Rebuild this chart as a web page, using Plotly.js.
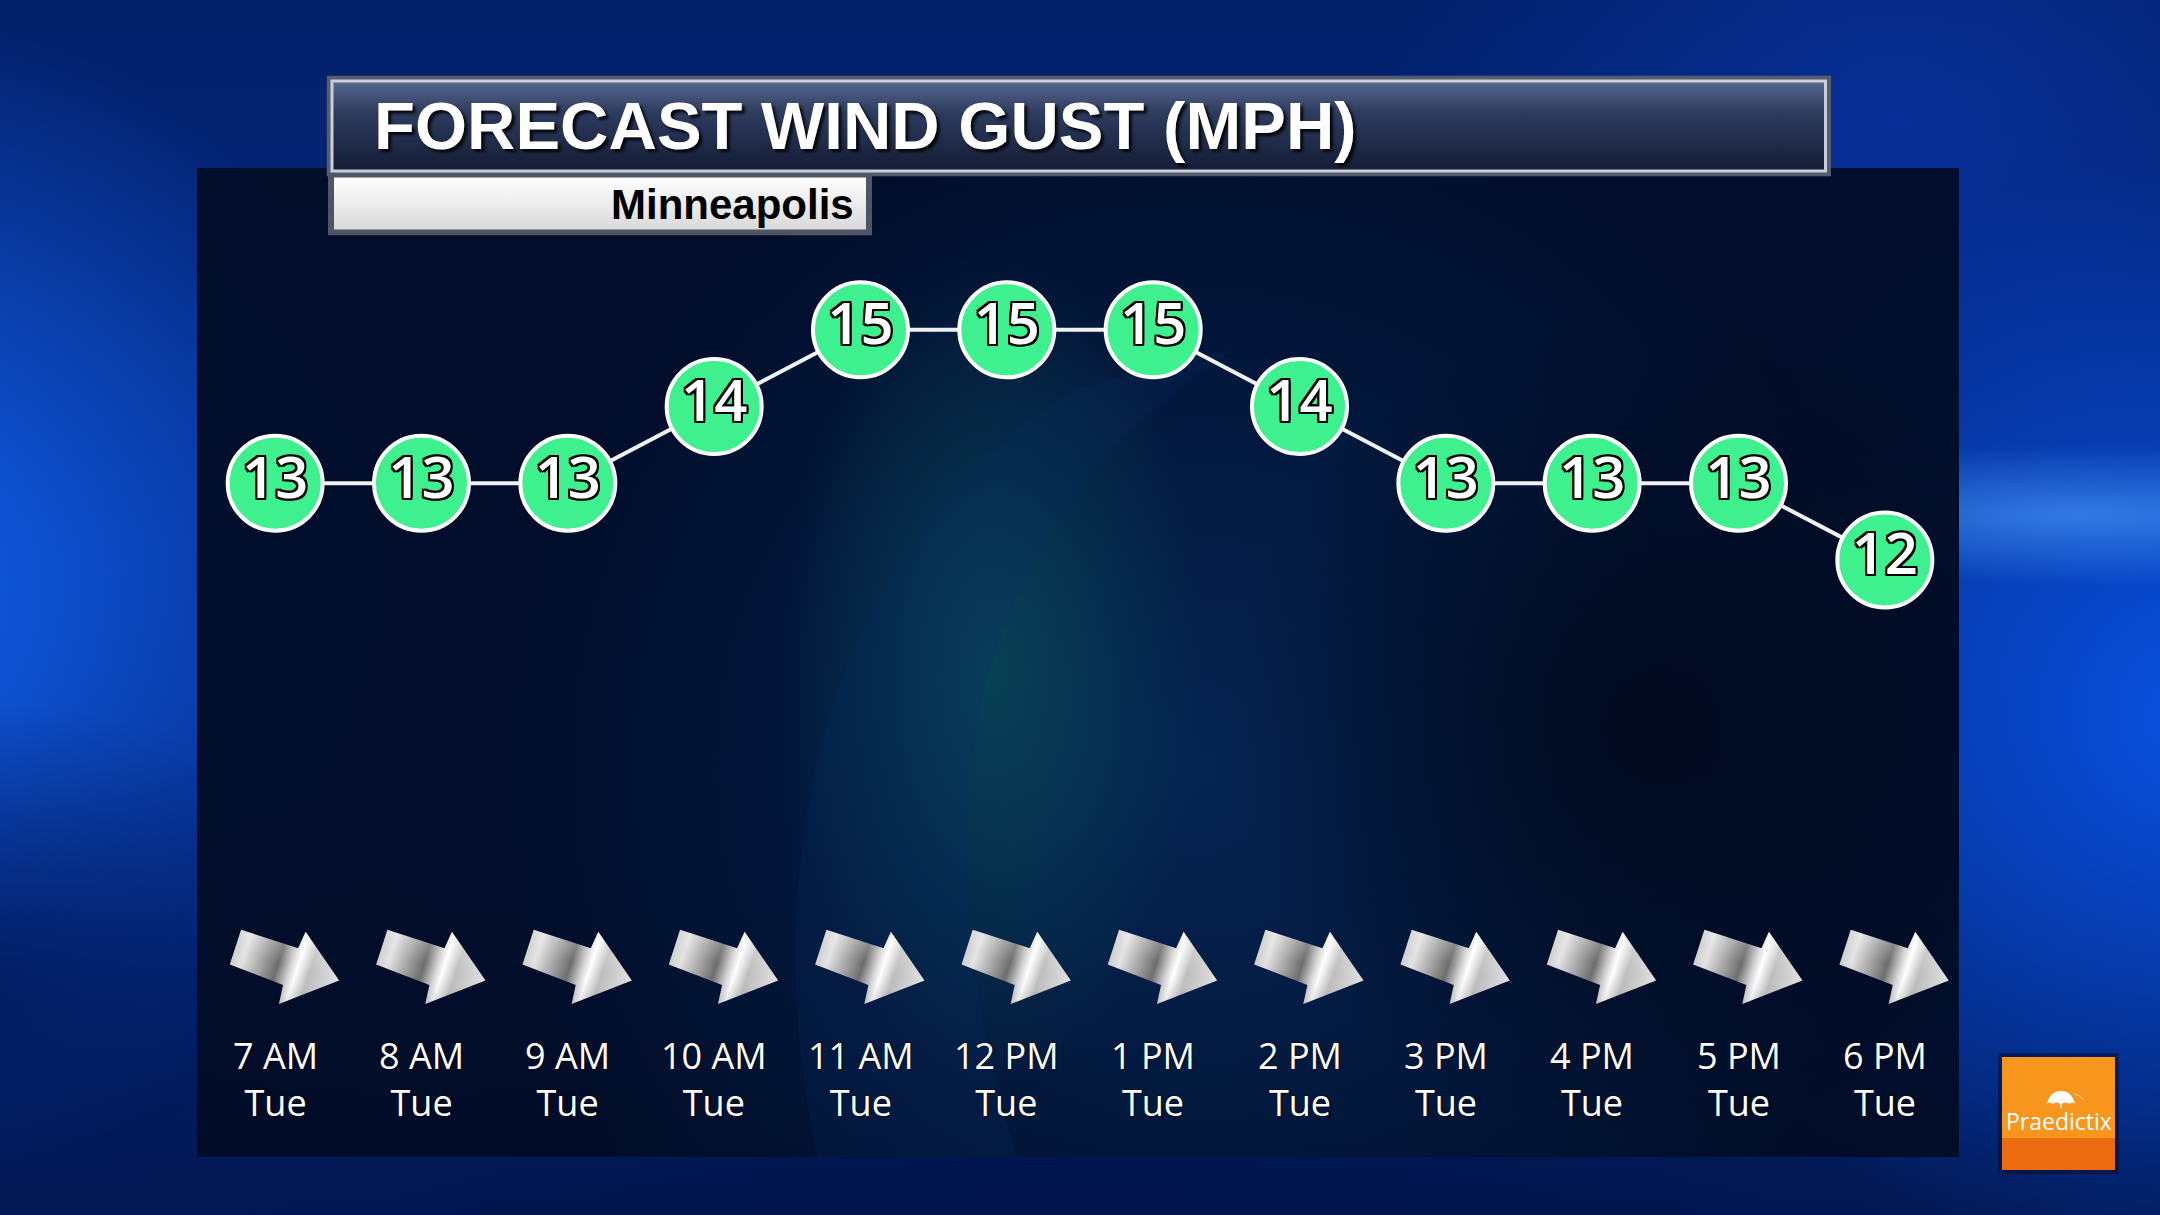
<!DOCTYPE html>
<html>
<head>
<meta charset="utf-8">
<script src="https://cdn.plot.ly/plotly-3.0.1.min.js"></script>
<style>
html,body{margin:0;padding:0;overflow:hidden;}
body{
  width:2160px;height:1215px;
  background:
    radial-gradient(ellipse 460px 70px at 2080px 515px, rgba(80,160,255,0.6), rgba(0,0,0,0) 100%),
    radial-gradient(ellipse 600px 560px at 2200px 720px, rgba(10,85,235,0.9), rgba(0,0,0,0) 100%),
    radial-gradient(ellipse 520px 420px at 1900px 120px, rgba(10,60,190,0.5), rgba(0,0,0,0) 100%),
    radial-gradient(ellipse 520px 300px at -60px 1000px, rgba(0,20,80,0.8), rgba(0,0,0,0) 100%),
    radial-gradient(ellipse 600px 600px at -160px 600px, rgba(20,105,255,0.9), rgba(0,0,0,0) 100%),
    radial-gradient(ellipse 1300px 260px at 1080px 1260px, rgba(0,18,70,0.9), rgba(0,0,0,0) 100%),
    linear-gradient(180deg, #03206a 0%, #042a86 45%, #03257a 70%, #021a58 100%);
}
#chart{width:2160px;height:1215px;}
</style>
</head>
<body>
<div id="chart"></div>
<script>
// ---- data ----
const hours = ['7 AM','8 AM','9 AM','10 AM','11 AM','12 PM','1 PM','2 PM','3 PM','4 PM','5 PM','6 PM'];
const days = ['Tue','Tue','Tue','Tue','Tue','Tue','Tue','Tue','Tue','Tue','Tue','Tue'];
const gusts = [13,13,13,14,15,15,15,14,13,13,13,12];
const windFromDeg = [288,288,288,288,288,288,288,288,288,288,288,288];
const chartTitle = 'FORECAST WIND GUST (MPH)';
const locationName = 'Minneapolis';
const brand = 'Praedictix';

// ---- helpers ----
function svgURI(s){ return 'data:image/svg+xml;charset=utf-8,' + encodeURIComponent(s); }

function arrowSVG(fromDeg){
  const rot = ((fromDeg + 90) % 360);
  return svgURI(
  '<svg xmlns="http://www.w3.org/2000/svg" width="140" height="140" viewBox="-70 -70 140 140">' +
  '<defs><linearGradient id="g" gradientUnits="userSpaceOnUse" x1="-53" y1="0" x2="56" y2="0">' +
  '<stop offset="0" stop-color="#cfcfcf"/><stop offset="0.1" stop-color="#e4e4e4"/>' +
  '<stop offset="0.42" stop-color="#6c6c6c"/><stop offset="0.54" stop-color="#d6d6d6"/>' +
  '<stop offset="0.6" stop-color="#ffffff"/><stop offset="0.72" stop-color="#bdbdbd"/>' +
  '<stop offset="1" stop-color="#e2e2e2"/></linearGradient>' +
  '<linearGradient id="h" x1="0" y1="0" x2="0" y2="1">' +
  '<stop offset="0" stop-color="#ffffff" stop-opacity="0.35"/><stop offset="0.5" stop-color="#ffffff" stop-opacity="0"/>' +
  '<stop offset="1" stop-color="#000000" stop-opacity="0.12"/></linearGradient></defs>' +
  '<g transform="translate(9.5 0) rotate(' + rot + ')">' +
  '<path d="M-53,-22 L7,-22 L9,-40 L56,-4 L6,37 L4,17.5 L-53,14.5 Z" fill="url(#g)"/>' +
  '<path d="M-53,-22 L7,-22 L9,-40 L56,-4 L6,37 L4,17.5 L-53,14.5 Z" fill="url(#h)"/>' +
  '</g></svg>');
}

const panelSVG = svgURI(
 '<svg xmlns="http://www.w3.org/2000/svg" width="1762" height="989" viewBox="0 0 1762 989" preserveAspectRatio="none">' +
 '<defs>' +
 '<radialGradient id="a" cx="795" cy="500" r="420" gradientUnits="userSpaceOnUse" gradientTransform="translate(795 500) scale(0.5 1) translate(-795 -500)">' +
 '<stop offset="0" stop-color="#0a4a5a" stop-opacity="0.8"/><stop offset="1" stop-color="#0a4a5a" stop-opacity="0"/></radialGradient>' +
 '<radialGradient id="b" cx="1000" cy="600" r="700" gradientUnits="userSpaceOnUse">' +
 '<stop offset="0" stop-color="#062a5c" stop-opacity="0.8"/><stop offset="1" stop-color="#062a5c" stop-opacity="0"/></radialGradient>' +
 '<radialGradient id="c" cx="1450" cy="560" r="420" gradientUnits="userSpaceOnUse">' +
 '<stop offset="0" stop-color="#000616" stop-opacity="0.8"/><stop offset="1" stop-color="#000616" stop-opacity="0"/></radialGradient>' +
 '</defs>' +
 '<rect width="1762" height="989" fill="#010c26" fill-opacity="0.96"/>' +
 '<rect width="1762" height="989" fill="url(#b)"/>' +
 '<rect width="1762" height="989" fill="url(#a)"/>' +
 '<path d="M620,989 C560,700 620,380 880,220 L1040,180 C800,330 700,600 820,989 Z" fill="#0b2f66" fill-opacity="0.22"/>' +
 '<rect width="1762" height="989" fill="url(#c)"/>' +
 '</svg>');

const titleSVG = svgURI(
 '<svg xmlns="http://www.w3.org/2000/svg" width="1505" height="101" viewBox="0 0 1505 101" preserveAspectRatio="none">' +
 '<defs><linearGradient id="t" x1="0" y1="0" x2="0" y2="1">' +
 '<stop offset="0" stop-color="#56658c"/><stop offset="0.35" stop-color="#2d3b5e"/><stop offset="1" stop-color="#141d36"/></linearGradient></defs>' +
 '<rect width="1505" height="101" fill="#555c6e"/>' +
 '<rect x="4" y="4" width="1497" height="93" fill="#c9ced8"/>' +
 '<rect x="7" y="7" width="1491" height="87" fill="url(#t)"/>' +
 '</svg>');

const subSVG = svgURI(
 '<svg xmlns="http://www.w3.org/2000/svg" width="544" height="62" viewBox="0 0 544 62" preserveAspectRatio="none">' +
 '<defs><linearGradient id="s" x1="0" y1="0" x2="0" y2="1">' +
 '<stop offset="0" stop-color="#ffffff"/><stop offset="1" stop-color="#d9d9d9"/></linearGradient></defs>' +
 '<rect width="544" height="62" fill="#4e5566"/>' +
 '<rect x="6" y="4" width="532" height="52" fill="url(#s)"/>' +
 '</svg>');

const umbrellaSVG = svgURI(
 '<svg xmlns="http://www.w3.org/2000/svg" width="40" height="20" viewBox="0 0 40 20">' +
 '<path d="M1,15 Q4,2 15,2 Q26,2 29,15 Q26.5,12 23.5,15 Q20,12 15,15 Q10,12 6.5,15 Q3.5,12 1,15 Z" fill="#ffffff"/>' +
 '<path d="M15,2 L15,19" stroke="#ffffff" stroke-width="1.5"/>' +
 '<path d="M28,5 Q34,6 38,11" stroke="#ffffff" stroke-opacity="0.6" stroke-width="1" fill="none"/>' +
 '</svg>');

// ---- geometry helpers (plot area: x 202..1958, y 168..1030) ----
const PL = 202, PR = 1958, PT = 168, PB = 1030;
const PW = PR - PL, PH = PB - PT;
const px = X => (X - PL) / PW;
const py = Y => (PB - Y) / PH;
const unitPx = PW / hours.length;

const images = [
  {source: panelSVG, xref:'paper', yref:'paper', x: px(197), y: py(168), sizex: (1959-197)/PW, sizey: (1157-168)/PH,
   xanchor:'left', yanchor:'top', sizing:'stretch', layer:'below'},
  {source: titleSVG, xref:'paper', yref:'paper', x: px(326.5), y: py(75.5), sizex: (1831-326.5)/PW, sizey: 101/PH,
   xanchor:'left', yanchor:'top', sizing:'stretch', layer:'below'},
  {source: subSVG, xref:'paper', yref:'paper', x: px(328), y: py(173.5), sizex: 544/PW, sizey: 62/PH,
   xanchor:'left', yanchor:'top', sizing:'stretch', layer:'below'},
  {source: umbrellaSVG, xref:'paper', yref:'paper', x: px(2066), y: py(1099), sizex: 40/PW, sizey: 20/PH,
   xanchor:'center', yanchor:'middle', sizing:'stretch', layer:'above'}
];
hours.forEach((h, i) => {
  images.push({source: arrowSVG(windFromDeg[i]), xref:'x', yref:'paper', x: i, y: py(967),
    sizex: 140/unitPx, sizey: 140/PH, xanchor:'center', yanchor:'middle', sizing:'stretch', layer:'above'});
});

const annotations = [
  {text: locationName, xref:'paper', yref:'paper', x: px(856), y: py(204), xanchor:'right', yanchor:'middle',
   showarrow:false, font:{family:'Liberation Sans, Arial, sans-serif', size:42, weight:700, color:'#000000'}},
  {text: brand, xref:'paper', yref:'paper', x: px(2059), y: py(1121), xanchor:'center', yanchor:'middle',
   showarrow:false, font:{family:'Open Sans, sans-serif', size:23, color:'#ffffff'}}
];
const labelFont = {family:'Open Sans, Noto Sans, sans-serif', size:36, color:'#ffffff', shadow:'0px 0px 2px #000000'};
hours.forEach((h, i) => {
  annotations.push({text: h + '<br>' + days[i], xref:'x', yref:'paper', x: i, y: py(1079), xanchor:'center', yanchor:'middle',
    align:'center', showarrow:false, font: labelFont});
});

const shapes = [
  {type:'rect', xref:'paper', yref:'paper', x0: px(1998), x1: px(2119), y0: py(1053), y1: py(1174), fillcolor:'rgba(0,8,35,0.45)', line:{width:0}, layer:'below'},
  {type:'rect', xref:'paper', yref:'paper', x0: px(2002), x1: px(2115), y0: py(1057), y1: py(1138), fillcolor:'#f7951d', line:{width:0}, layer:'below'},
  {type:'rect', xref:'paper', yref:'paper', x0: px(2002), x1: px(2115), y0: py(1138), y1: py(1170), fillcolor:'#ec6a10', line:{width:0}, layer:'below'}
];

const trace = {
  type:'scatter',
  mode:'lines+markers+text',
  x: hours,
  y: gusts,
  text: gusts.map(String),
  textposition:'middle center',
  textfont:{family:'Open Sans, Noto Sans, sans-serif', size:58, weight:600, color:'#ffffff',
    shadow:'-2px -2px 0 #000, 2px -2px 0 #000, -2px 2px 0 #000, 2px 2px 0 #000, 0 2px 0 #000, 0 -2px 0 #000, 2px 0 0 #000, -2px 0 0 #000'},
  line:{color:'#eef2f4', width:4},
  marker:{size:95, color:'#3ff08e', line:{color:'#ffffff', width:4}},
  cliponaxis:false,
  hoverinfo:'skip'
};

const layout = {
  width:2160, height:1215,
  margin:{l:PL, r:2160-PR, t:PT, b:1215-PB, pad:0},
  paper_bgcolor:'rgba(0,0,0,0)',
  plot_bgcolor:'rgba(0,0,0,0)',
  showlegend:false,
  title:{text: chartTitle, x: 374/2160, xref:'container', xanchor:'left', y: 1 - 126/1215, yref:'container', yanchor:'middle',
    font:{family:'Liberation Sans, Arial, sans-serif', size:67, weight:700, color:'#ffffff', shadow:'3px 3px 3px rgba(0,0,0,0.85)'}},
  xaxis:{type:'category', range:[-0.5, hours.length-0.5], showgrid:false, zeroline:false, showline:false,
    showticklabels:false, ticks:'', fixedrange:true},
  yaxis:{range:[5.87, 17.11], showgrid:false, zeroline:false, showline:false, showticklabels:false, ticks:'', fixedrange:true},
  images: images,
  annotations: annotations,
  shapes: shapes
};

Plotly.newPlot('chart', [trace], layout, {staticPlot:true, displayModeBar:false});
</script>
</body>
</html>
